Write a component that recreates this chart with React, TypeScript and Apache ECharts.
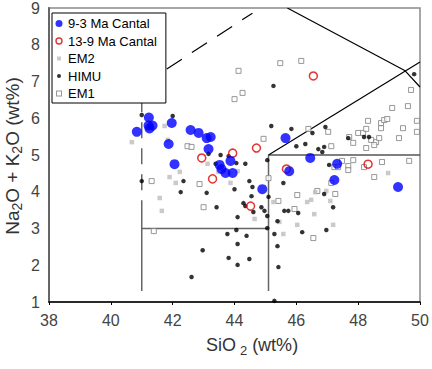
import React, { useEffect, useRef } from "react";
import * as echarts from "echarts";

// ---- data (SiO2 wt%, Na2O+K2O wt%) ----
const xRange = [38, 50];
const yRange = [1, 9];

const cantal93: [number, number][] = [
  [40.84, 5.63], [41.23, 6.02], [41.22, 5.8], [41.35, 5.8], [41.25, 5.72],
  [41.97, 5.87], [41.87, 5.3], [42.06, 4.75], [42.58, 5.68], [42.84, 5.6],
  [43.1, 5.46], [43.23, 5.49], [43.16, 5.16], [43.52, 4.73], [43.58, 4.62],
  [43.71, 4.51], [43.94, 4.51], [43.87, 4.84], [44.9, 4.07], [45.65, 5.46],
  [45.77, 4.56], [46.45, 4.92], [47.32, 4.76], [47.23, 4.32], [49.29, 4.13],
];

const cantal139: [number, number][] = [
  [42.94, 4.92], [43.29, 4.35], [43.94, 5.05], [44.71, 5.19], [45.68, 4.62],
  [46.55, 7.15], [48.32, 4.75], [44.52, 3.61],
];

const em2: [number, number][] = [
  [40.68, 5.35], [41.74, 5.79], [41.84, 5.41], [42.23, 4.54], [41.9, 4.4],
  [42.1, 4.24], [43.48, 4.54], [43.13, 4.76], [41.58, 3.83], [41.65, 3.48],
  [44.1, 4.56], [43.87, 4.24], [48.97, 4.51], [47.1, 3.75], [47.19, 3.1],
  [45.26, 3.72], [46.35, 3.72], [46.48, 3.78], [46.61, 3.99], [46.97, 4.02],
  [46.03, 3.1], [45.58, 2.85], [45.45, 3.18], [46.58, 3.39], [44.65, 3.26],
];

const himu: [number, number][] = [
  [41.0, 6.09], [42.0, 6.06], [43.16, 5.03], [43.39, 4.76], [41.0, 4.29],
  [42.35, 4.29], [42.26, 3.99], [43.1, 3.97], [43.42, 3.58], [42.97, 2.41],
  [42.61, 1.68], [43.55, 5.0], [43.81, 4.97], [44.06, 4.78], [44.35, 4.76],
  [45.06, 4.86], [45.26, 6.88], [45.19, 5.79], [45.84, 5.71], [46.0, 5.24],
  [46.29, 5.3], [46.52, 5.6], [46.94, 5.76], [46.71, 5.16], [46.84, 5.08],
  [46.9, 5.22], [47.68, 5.46], [48.19, 5.49], [48.35, 5.49], [49.81, 7.2],
  [47.06, 4.73], [46.9, 3.94], [47.19, 3.58], [46.97, 2.96], [44.48, 4.29],
  [44.58, 4.13], [44.55, 3.88], [44.0, 4.07], [44.29, 3.69], [44.35, 3.61],
  [44.1, 3.31], [43.77, 2.85], [44.06, 2.96], [44.39, 2.8], [44.1, 2.58],
  [43.81, 2.2], [44.48, 2.17], [44.1, 2.01], [45.1, 3.86], [44.87, 3.58],
  [44.97, 3.48], [44.61, 3.45], [45.06, 3.34], [45.06, 3.01], [45.39, 3.2],
  [45.29, 2.85], [45.39, 2.52], [45.42, 1.95], [45.29, 1.03], [45.61, 3.48],
  [45.74, 3.48], [46.06, 3.42], [46.19, 2.9], [45.58, 4.24],
];

const em1: [number, number][] = [
  [42.48, 5.24], [42.61, 5.22], [41.32, 4.29], [42.87, 4.21], [41.39, 2.93],
  [43.0, 3.58], [44.13, 7.29], [45.48, 7.5], [46.16, 7.56], [44.26, 6.69],
  [44.0, 6.52], [44.94, 5.44], [46.39, 5.71], [47.03, 5.63], [47.13, 5.24],
  [47.71, 5.49], [47.84, 5.33], [48.0, 5.6], [48.16, 5.6], [48.26, 5.71],
  [48.32, 5.93], [48.74, 5.87], [48.84, 5.95], [48.94, 5.98], [48.74, 5.73],
  [48.42, 5.41], [48.58, 5.35], [48.52, 5.27], [48.26, 5.19], [48.68, 5.46],
  [49.32, 5.46], [49.1, 6.28], [49.45, 5.73], [49.61, 6.33], [49.71, 6.77],
  [49.9, 5.93], [49.9, 5.63], [49.65, 4.84], [48.77, 4.81], [48.52, 4.4],
  [47.84, 4.86], [47.68, 4.7], [47.68, 4.59], [47.48, 4.84], [47.23, 4.67],
  [47.35, 4.67], [48.19, 4.67], [47.13, 4.24], [47.26, 3.94], [45.1, 4.37],
  [46.03, 3.91], [45.42, 3.75], [45.94, 3.53], [46.68, 4.02], [46.55, 2.74],
];

// ---- field boundaries ----
const bDashVert: [number, number][] = [[41, 6.6], [41, 3.45]];
const bSolidVert: [number, number][] = [[41, 3.45], [41, 1.3]];
const bH3: [number, number][] = [[41, 3], [45.1, 3]];
const bV45: [number, number][] = [[45.1, 5], [45.1, 1.3]];
const bH5: [number, number][] = [[45.1, 5], [50, 5]];
const bDiagUp: [number, number][] = [[45.1, 5], [50, 7.53]];
const bDiagDown: [number, number][] = [[45.71, 9], [49.52, 7.29], [50, 6.85]];
const bDashDiag: [number, number][] = [[41.81, 7.34], [44.58, 8.86]];

const FONT = "'Liberation Sans', Arial, sans-serif";

function boundary(data: [number, number][], color: string, width: number, type: any = "solid") {
  return {
    type: "line",
    data,
    symbol: "none",
    silent: true,
    z: 1,
    lineStyle: { color, width, type },
  };
}

function svgIcon(inner: string) {
  const svg = `<svg xmlns="http://www.w3.org/2000/svg" width="8" height="10" viewBox="0 0 8 10">${inner}</svg>`;
  return "image://data:image/svg+xml;charset=utf-8," + encodeURIComponent(svg);
}

export default function App() {
  const ref = useRef<HTMLDivElement>(null);
  useEffect(() => {
    if (!ref.current) return;
    const chart = echarts.init(ref.current, undefined, { renderer: "svg" });
    const option: any = {
      animation: false,
      textStyle: { fontFamily: FONT },
      grid: {
        left: 49, right: 12, top: 8, bottom: 67,
        show: true, borderColor: "#8a8a8a", borderWidth: 1.5,
      },
      xAxis: {
        type: "value", min: xRange[0], max: xRange[1], interval: 2,
        axisLine: { show: true, lineStyle: { color: "#000", width: 1.5 } },
        axisTick: { show: true, length: 3, lineStyle: { color: "#000" } },
        axisLabel: { color: "#444", fontSize: 16, margin: 10, fontFamily: FONT },
        splitLine: { show: false },
      },
      yAxis: {
        type: "value", min: yRange[0], max: yRange[1], interval: 1,
        axisLine: { show: true, lineStyle: { color: "#666", width: 2 } },
        axisTick: { show: false },
        axisLabel: { color: "#444", fontSize: 16, margin: 9, fontFamily: FONT },
        splitLine: { show: false },
      },
      legend: {
        orient: "vertical", left: 52, top: 13,
        padding: [4, 9, 3, 3], itemGap: 4.5, itemWidth: 8, itemHeight: 10,
        backgroundColor: "#fff", borderColor: "#000", borderWidth: 1,
        textStyle: { fontSize: 13, color: "#000", fontFamily: FONT },
        data: [
          { name: "9-3 Ma Cantal", icon: svgIcon('<circle cx="4" cy="5" r="3.5" fill="#0000ff"/>') },
          { name: "13-9 Ma Cantal", icon: svgIcon('<circle cx="4" cy="5" r="3" fill="none" stroke="#e00000" stroke-width="1.4"/>') },
          { name: "EM2", icon: svgIcon('<rect x="2" y="3" width="4" height="4" fill="#bdbdbd"/>') },
          { name: "HIMU", icon: svgIcon('<circle cx="4" cy="5" r="2" fill="#000"/>') },
          { name: "EM1", icon: svgIcon('<rect x="1.5" y="2.5" width="5" height="5" fill="#fff" stroke="#808080" stroke-width="1"/>') },
        ],
      },
      graphic: [
        {
          type: "text", x: 252, y: 345, silent: true,
          style: {
            text: "SiO{sub|2} (wt%)", fill: "#333", fontSize: 18, fontFamily: FONT,
            align: "center", verticalAlign: "middle",
            rich: { sub: { fontSize: 13, fill: "#333", padding: [10, 0, 0, 4] } },
          },
        },
        {
          type: "text", x: 12, y: 156, rotation: Math.PI / 2, silent: true,
          style: {
            text: "Na{sub|2}O + K{sub|2}O (wt%)", fill: "#333", fontSize: 19, fontFamily: FONT,
            align: "center", verticalAlign: "middle",
            rich: { sub: { fontSize: 14, fill: "#333", padding: [10, 0, 0, 0] } },
          },
        },
      ],
      series: [
        boundary(bDashVert, "#666", 1.5, [16, 10]),
        boundary(bSolidVert, "#666", 1.5),
        boundary(bH3, "#666", 1.5),
        boundary(bV45, "#666", 1.5),
        boundary(bH5, "#555", 1.5),
        boundary(bDiagUp, "#000", 1.2),
        boundary(bDiagDown, "#000", 1.2),
        boundary(bDashDiag, "#000", 1.2, [18, 12]),
        {
          name: "EM1", type: "scatter", data: em1, symbol: "rect", symbolSize: 5, z: 2,
          itemStyle: { color: "#fff", borderColor: "#808080", borderWidth: 1 },
        },
        {
          name: "EM2", type: "scatter", data: em2, symbol: "rect", symbolSize: 4.5, z: 2,
          itemStyle: { color: "#bdbdbd" },
        },
        {
          name: "HIMU", type: "scatter", data: himu, symbol: "circle", symbolSize: 4.5, z: 2,
          itemStyle: { color: "#000" },
        },
        {
          name: "13-9 Ma Cantal", type: "scatter", data: cantal139, symbol: "circle", symbolSize: 8, z: 3,
          itemStyle: { color: "rgba(255,255,255,0)", borderColor: "#e00000", borderWidth: 1.5 },
        },
        {
          name: "9-3 Ma Cantal", type: "scatter", data: cantal93, symbol: "circle", symbolSize: 10, z: 4,
          itemStyle: { color: "#0000ff" },
        },
      ],
    };
    chart.setOption(option);
    return () => chart.dispose();
  }, []);
  return (
    <div
      ref={ref}
      style={{ position: "fixed", left: 0, top: 0, width: 432, height: 369, background: "#fff" }}
    />
  );
}
